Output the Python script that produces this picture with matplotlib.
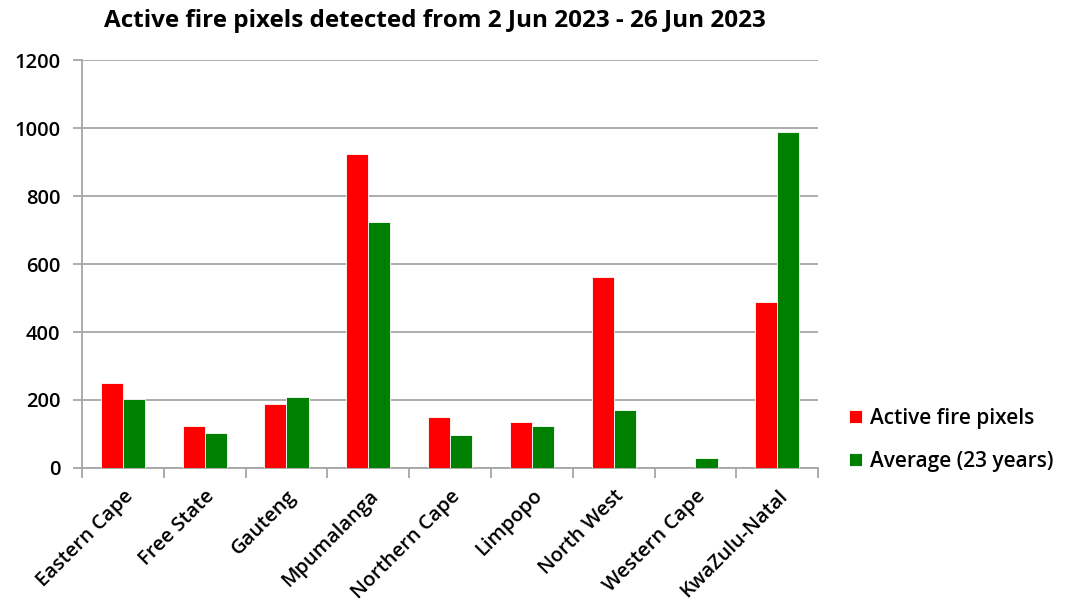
import numpy as np
import matplotlib.pyplot as plt

provinces = ['Eastern Cape', 'Free State', 'Gauteng', 'Mpumalanga', 'Northern Cape',
             'Limpopo', 'North West', 'Western Cape', 'KwaZulu-Natal']
active = [251, 124, 187, 925, 151, 134, 561, 0, 487]
average = [203, 103, 209, 724, 98, 124, 172, 28, 989]
y_ticks = [0, 200, 400, 600, 800, 1000, 1200]

plt.rcParams['font.family'] = ['Open Sans', 'DejaVu Sans']
plt.rcParams['font.weight'] = 'semibold'

fig = plt.figure(figsize=(10.69, 6.10), dpi=100)
ax = fig.add_axes([0.0767, 0.2328, 0.6886, 0.6688])

x = np.arange(len(provinces))
w = 0.27
ax.bar(x - w / 2, active, w, color='#FF0000', edgecolor='white', linewidth=0.6,
       label='Active fire pixels', zorder=3)
ax.bar(x + w / 2, average, w, color='#008000', edgecolor='white', linewidth=0.6,
       label='Average (23 years)', zorder=3)

ax.set_xlim(-0.5, len(provinces) - 0.5)
ax.set_ylim(0, 1200)
ax.set_yticks(y_ticks)
ax.set_yticklabels([str(v) for v in y_ticks], fontsize=14.5)
ax.yaxis.grid(True, color='#A6A6A6', linewidth=1.3, zorder=0)
ax.set_axisbelow(True)

ax.set_xticks(x)
ax.set_xticklabels(provinces, rotation=45, ha='right', rotation_mode='anchor', fontsize=14.5)
ax.tick_params(axis='x', length=0, pad=13)
ax.set_xticks(np.arange(-0.5, len(provinces)), minor=True)
ax.tick_params(axis='x', which='minor', length=7, color='#A6A6A6', width=1.3)
ax.tick_params(axis='y', length=6.5, color='#A6A6A6', width=1.3, pad=9)

for s in ['top', 'right']:
    ax.spines[s].set_visible(False)
for s in ['left', 'bottom']:
    ax.spines[s].set_color('#A6A6A6')
    ax.spines[s].set_linewidth(1.3)

fig.text(0.407, 0.965, 'Active fire pixels detected from 2 Jun 2023 - 26 Jun 2023',
         ha='center', va='center', fontsize=17.5, fontweight='bold')

ax.legend(loc='center left', bbox_to_anchor=(0.777, 0.279), bbox_transform=fig.transFigure,
          frameon=False, fontsize=15, handlelength=0.6, handleheight=0.6,
          handletextpad=0.4, labelspacing=1.05)

fig.savefig('out.png', dpi=100)
